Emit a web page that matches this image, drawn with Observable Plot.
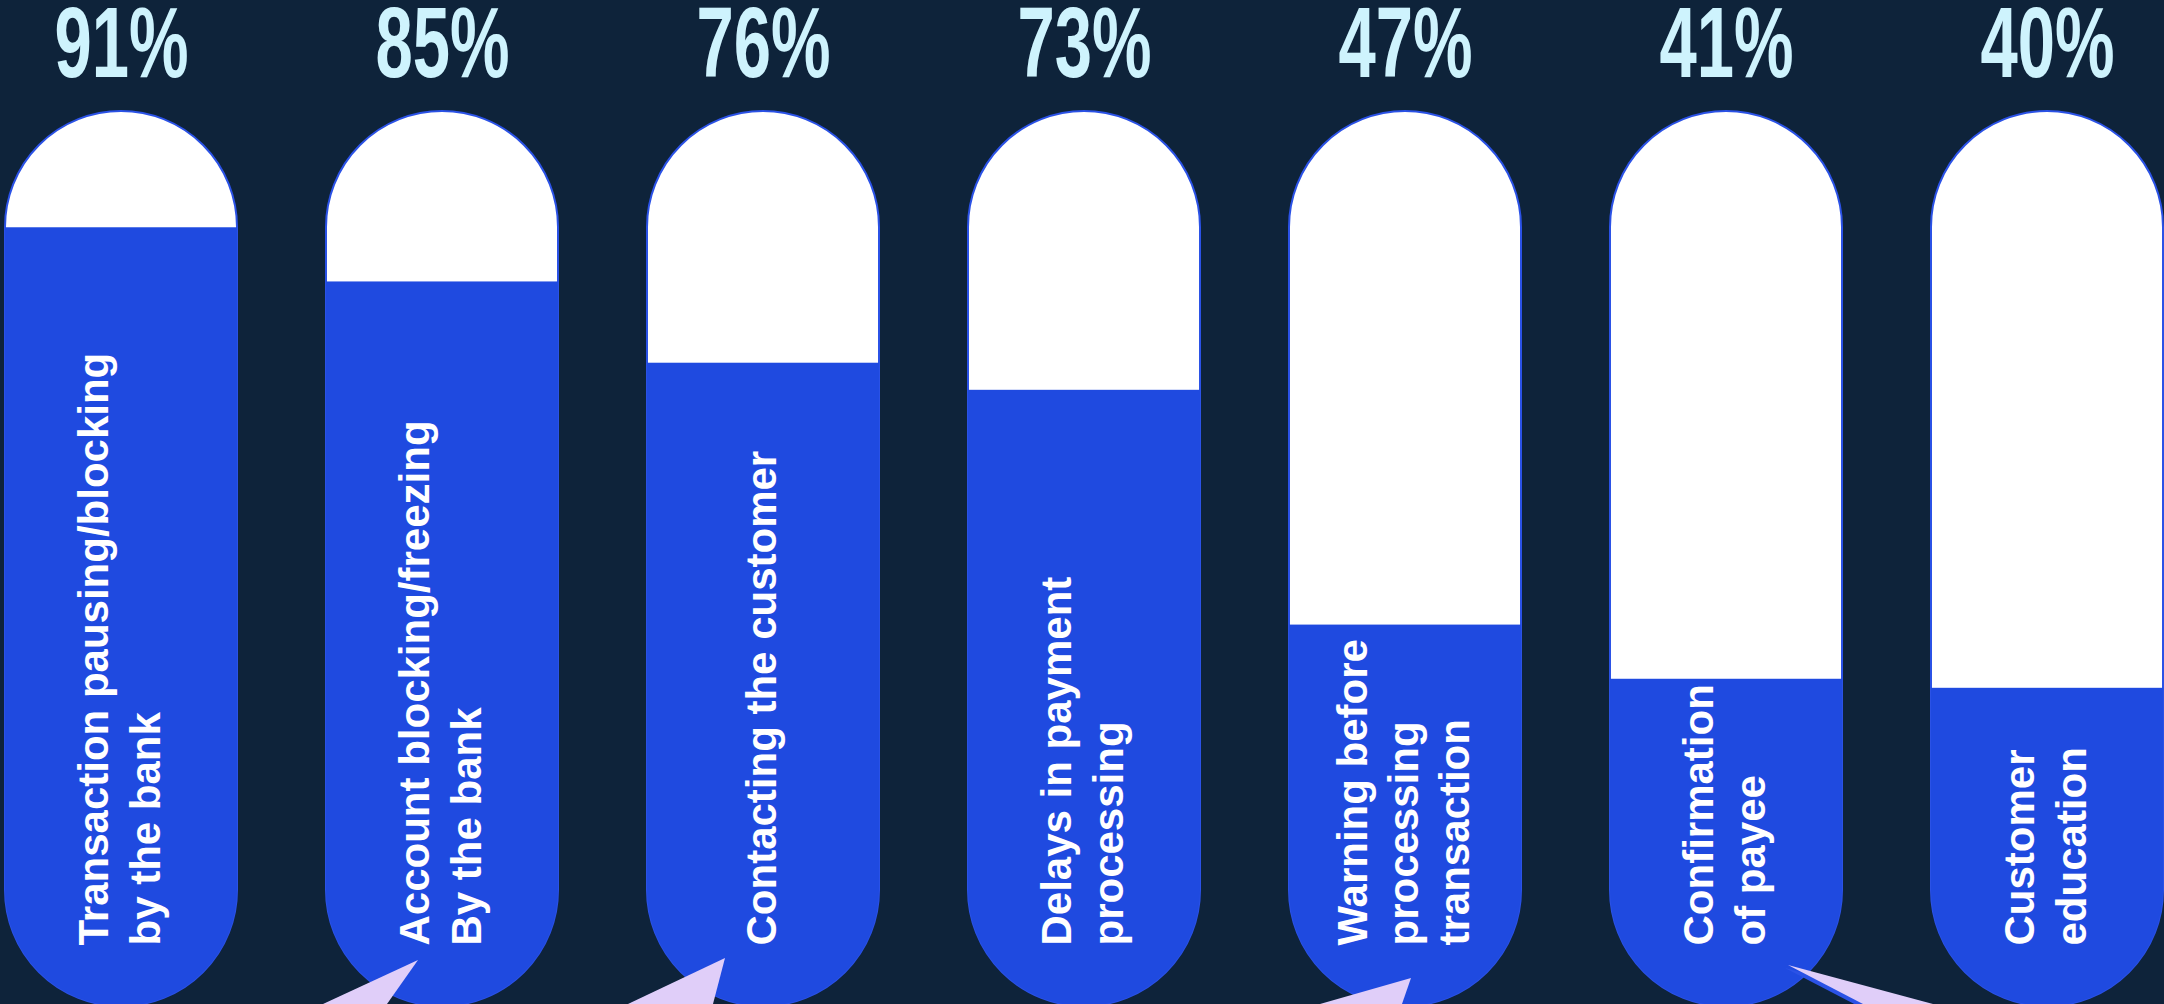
<!DOCTYPE html>
<html>
<head>
<meta charset="utf-8">
<script src="https://cdn.jsdelivr.net/npm/d3@7"></script>
<script src="https://cdn.jsdelivr.net/npm/@observablehq/plot@0.6"></script>
<style>
  html, body { margin: 0; padding: 0; background: #0e233a; overflow: hidden; }
  #chart svg { display: block; }
</style>
</head>
<body>
<div id="chart"></div>
<script>
// ---- data ----
const categories = [
  "Transaction pausing/blocking\nby the bank",
  "Account blocking/freezing\nBy the bank",
  "Contacting the customer",
  "Delays in payment\nprocessing",
  "Warning before\nprocessing\ntransaction",
  "Confirmation\nof payee",
  "Customer\neducation"
];
const values = [91, 85, 76, 73, 47, 41, 40];
const percentLabels = values.map(v => v + "%");

// ---- style / layout constants ----
const W = 2164, H = 1004;
const BG = "#0e233a";
const BLUE = "#1f4ae0";
const OUTLINE = "#2b52e6";
const PCT_COLOR = "#cef3fd";
const LAVENDER = "#e0cef9";

const data = categories.map((c, i) => ({category: c, value: values[i], pct: percentLabels[i]}));

const chart = Plot.plot({
  width: W,
  height: H,
  marginTop: 0, marginRight: 0, marginBottom: 0, marginLeft: 0,
  style: {background: BG, fontFamily: "'Liberation Sans', Arial, Helvetica, sans-serif", overflow: "visible"},
  x: {type: "band", domain: categories, range: [4, 2164], paddingInner: 0.278, paddingOuter: 0, axis: null},
  y: {domain: [0, 100], range: [1049, 146], axis: null},
  marks: [
    // capsule track
    Plot.barY(data, {x: "category", y1: 0, y2: 100, rx: 116, insetTop: -35, insetBottom: 43,
      fill: "white", stroke: OUTLINE, strokeWidth: 2}),
    // fill level
    Plot.barY(data, {x: "category", y1: 0, y2: "value", fill: BLUE}),
    // rotated category labels
    Plot.text(data, {x: "category", text: "category", rotate: -90, frameAnchor: "bottom", dy: -59, dx: -4,
      textAnchor: "start", lineAnchor: "middle", lineHeight: 1.22,
      fontSize: 42, fontWeight: "bold", fill: "white"}),
    // percentages on top
    Plot.text(data, {x: "category", text: "pct", frameAnchor: "top", lineAnchor: "bottom", dy: 76,
      fontSize: 100, fontWeight: "bold", fill: PCT_COLOR})
  ]
});

document.getElementById("chart").appendChild(chart);

// ---- clip fill bars to capsule shapes ----
const svg = d3.select(chart);
const barGroups = chart.querySelectorAll('g[aria-label="bar"]');
if (barGroups.length >= 2) {
  const capRects = barGroups[0].querySelectorAll("rect");
  const fillRects = barGroups[1].querySelectorAll("rect");
  const defs = svg.insert("defs", ":first-child");
  capRects.forEach((r, i) => {
    const clone = r.cloneNode();
    clone.removeAttribute("stroke");
    defs.append("clipPath").attr("id", "capclip" + i).node().appendChild(clone);
    if (fillRects[i]) fillRects[i].setAttribute("clip-path", `url(#capclip${i})`);
  });
}

// ---- condense the percentage numerals ----
const textGroups = chart.querySelectorAll('g[aria-label="text"]');
if (textGroups.length >= 2) {
  textGroups[1].querySelectorAll("text").forEach(t => {
    const tr = t.getAttribute("transform") || "";
    t.setAttribute("transform", tr + " scale(0.67,1)");
  });
}

// ---- speech-bubble pointer decorations at the bottom ----
const xs = chart.scale("x");
const xCenter = c => (xs.apply ? xs.apply(c) : 0) + xs.bandwidth / 2;
const pointers = [
  {i: 1, tip: [-24, 960], a: [-119, 1004], b: [-55, 1004], sh: [-3, 2]},
  {i: 2, tip: [-38, 958], a: [-135, 1004], b: [-50, 1004], sh: [-3, 2]},
  {i: 4, tip: [6, 978], a: [-85, 1004], b: [-3, 1004], sh: [-3, 2]},
  {i: 5, tip: [62, 965], a: [207, 1004], b: [137, 1004], sh: [-3, 3]}
];
const deco = svg.append("g").attr("aria-label", "pointers");
pointers.forEach(p => {
  const cx = xCenter(categories[p.i]);
  const ext = q => [p.tip[0] + (q[0] - p.tip[0]) * 1.6, p.tip[1] + (q[1] - p.tip[1]) * 1.6];
  const pts = [p.tip, ext(p.a), ext(p.b)].map(q => [cx + q[0], q[1]]);
  const path = "M" + pts.map(q => q.join(",")).join("L") + "Z";
  deco.append("path").attr("d", path).attr("fill", OUTLINE)
    .attr("transform", `translate(${p.sh[0]},${p.sh[1]})`);
  deco.append("path").attr("d", path).attr("fill", LAVENDER);
});
</script>
</body>
</html>
